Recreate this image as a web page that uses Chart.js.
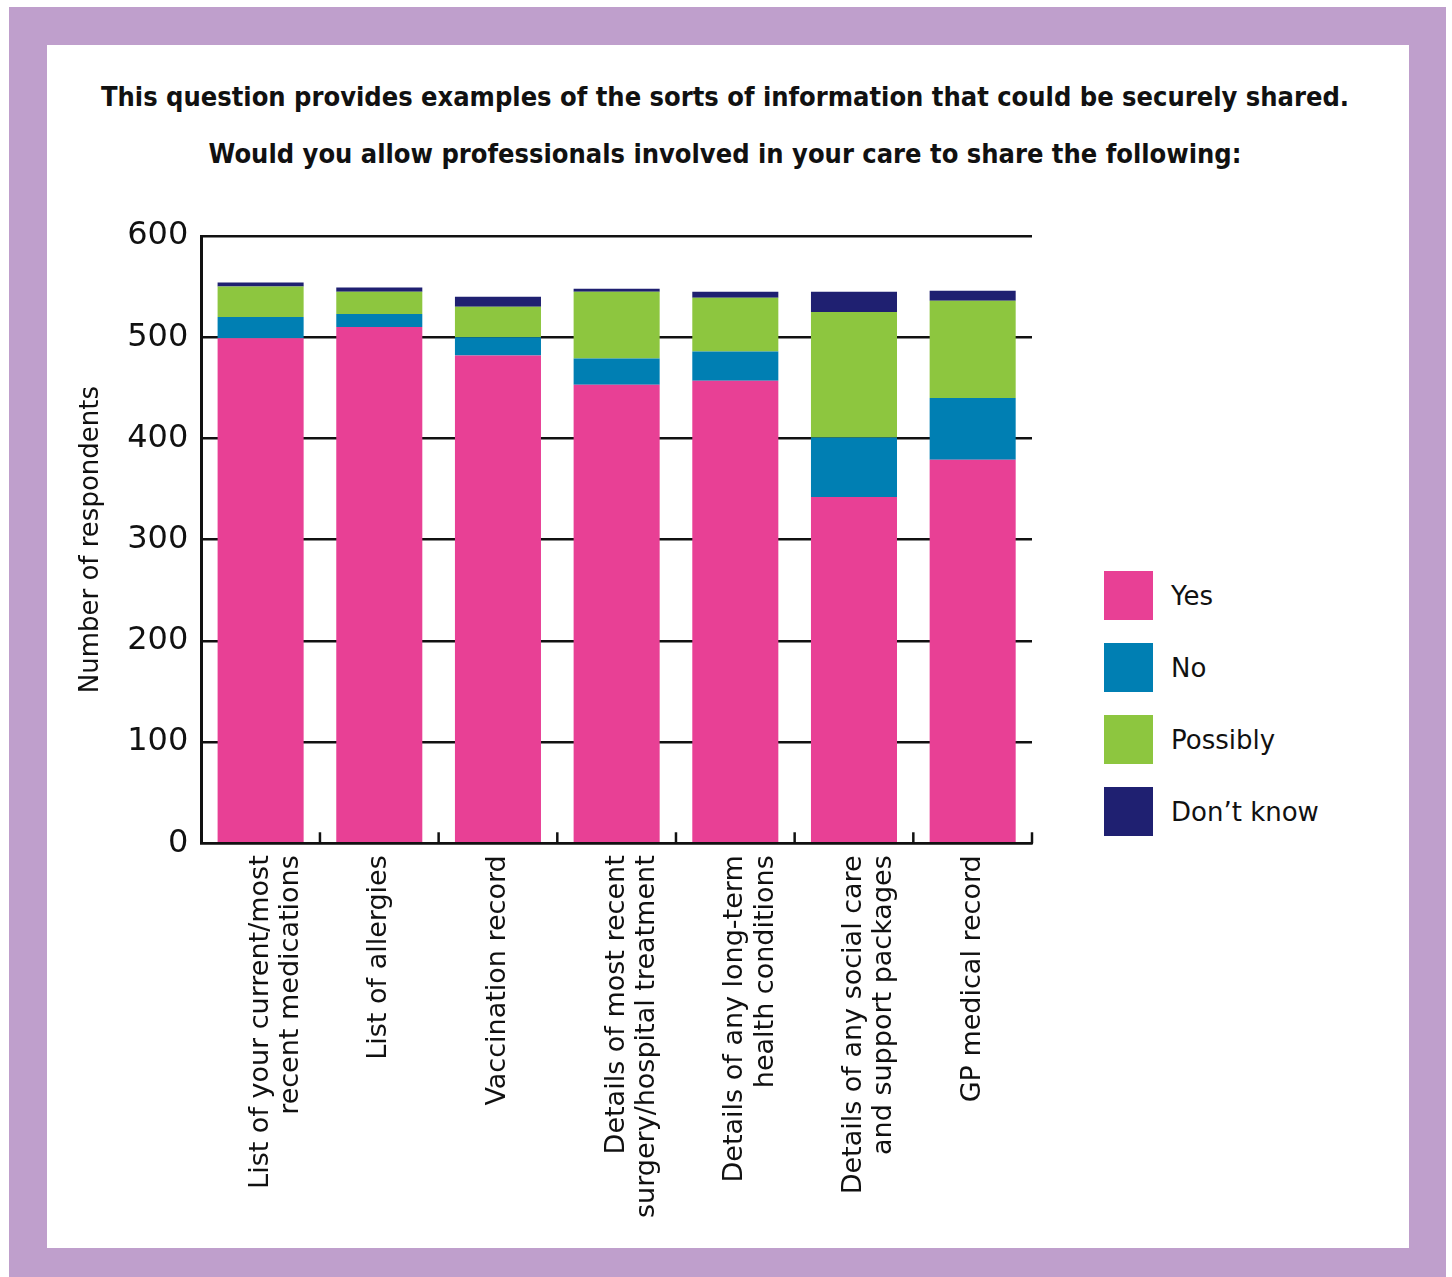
<!DOCTYPE html>
<html>
<head>
<meta charset="utf-8">
<script src="https://cdn.jsdelivr.net/npm/chart.js@4.4.1/dist/chart.umd.min.js"></script>
<style>
  html, body { margin: 0; padding: 0; background: #fff; }
  body { width: 1452px; height: 1277px; position: relative; overflow: hidden; font-family: "DejaVu Sans", sans-serif; }
  #frame { position: absolute; left: 9px; top: 7px; width: 1437px; height: 1290px; background: #bf9fcc; }
  #panel { position: absolute; left: 47px; top: 45px; width: 1362px; height: 1203px; background: #fff; }
  .title { position: absolute; left: 47px; width: 1356px; text-align: center; font-family: "DejaVu Sans Condensed", "DejaVu Sans", sans-serif; font-weight: bold; font-size: 27px; line-height: 32px; color: #111; white-space: nowrap; }
  #chartBox { position: absolute; left: 47px; top: 160px; }
  #legend { position: absolute; left: 1104px; top: 571px; }
  .item { position: relative; height: 72px; }
  .item .sw { position: absolute; left: 0; top: 0; width: 49px; height: 49px; }
  .item .tx { position: absolute; left: 67px; top: 7px; font-size: 26px; line-height: 36px; color: #111; white-space: nowrap; }
</style>
</head>
<body>
<div id="frame"></div>
<div id="panel"></div>
<div class="title" style="top:81px">This question provides examples of the sorts of information that could be securely shared.</div>
<div class="title" style="top:138px">Would you allow professionals involved in your care to share the following:</div>
<div id="chartBox"><canvas id="chart" width="1040" height="1088"></canvas></div>
<div id="legend"></div>
<script>
// categories (x axis)
var categories = [
  ["List of your current/most", "recent medications"],
  "List of allergies",
  "Vaccination record",
  ["Details of most recent", "surgery/hospital treatment"],
  ["Details of any long-term", "health conditions"],
  ["Details of any social care", "and support packages"],
  "GP medical record"
];

// series values (number of respondents)
var yesVals      = [499, 510, 482, 453, 457, 342, 379];
var noVals       = [21, 13, 18, 26, 29, 59, 61];
var possiblyVals = [30, 22, 30, 66, 53, 124, 96];
var dontKnowVals = [4, 4, 10, 3, 6, 20, 10];

var seriesNames  = ["Yes", "No", "Possibly", "Don\u2019t know"];
var seriesColors = ["#e84095", "#007fb3", "#8dc63f", "#1f2071"];

// y axis ticks
var yTicks = [0, 100, 200, 300, 400, 500, 600];

var seriesVals = [yesVals, noVals, possiblyVals, dontKnowVals];

/* short upward tick marks on the category axis --------------------- */
var catTicks = {
  id: 'catTicks',
  afterDraw: function(chart) {
    var xs = chart.scales.x;
    var ctx = chart.ctx;
    var n = categories.length;
    ctx.save();
    ctx.strokeStyle = '#111';
    ctx.lineWidth = 2.5;
    for (var i = 0; i <= n; i++) {
      var px = xs.left + i * xs.width / n;
      ctx.beginPath();
      ctx.moveTo(px, xs.top);
      ctx.lineTo(px, xs.top - 11);
      ctx.stroke();
    }
    ctx.restore();
  }
};

var chart = new Chart(document.getElementById('chart'), {
  type: 'bar',
  data: {
    labels: categories,
    datasets: seriesNames.map(function(name, i) {
      return {
        label: name,
        data: seriesVals[i],
        backgroundColor: seriesColors[i],
        borderWidth: 0,
        categoryPercentage: 1,
        barPercentage: 0.725
      };
    })
  },
  options: {
    responsive: false,
    animation: false,
    layout: { padding: { top: 76, right: 55, bottom: 18, left: 29 } },
    plugins: {
      legend: { display: false },
      tooltip: { enabled: false }
    },
    scales: {
      x: {
        stacked: true,
        grid: { display: false, drawTicks: false },
        border: { display: true, color: '#111', width: 2.5 },
        ticks: {
          color: '#111',
          font: { family: 'DejaVu Sans', size: 27, lineHeight: 1.12 },
          padding: 12,
          minRotation: 90,
          maxRotation: 90,
          autoSkip: false
        }
      },
      y: {
        stacked: true,
        min: yTicks[0],
        max: yTicks[yTicks.length - 1],
        afterBuildTicks: function(axis) {
          axis.ticks = yTicks.map(function(v) { return { value: v }; });
        },
        grid: { color: '#111', lineWidth: 2.5, drawTicks: false },
        border: { display: true, color: '#111', width: 3 },
        ticks: {
          color: '#111',
          font: { family: 'DejaVu Sans', size: 32 },
          padding: 13
        },
        title: {
          display: true,
          text: 'Number of respondents',
          color: '#111',
          font: { family: 'DejaVu Sans', size: 26 },
          padding: { top: 0, bottom: 7 }
        }
      }
    }
  },
  plugins: [catTicks]
});

/* legend built from the series ------------------------------------- */
var legend = document.getElementById('legend');
seriesNames.forEach(function(name, i) {
  var item = document.createElement('div');
  item.className = 'item';
  item.innerHTML = '<div class="sw" style="background:' + seriesColors[i] + '"></div><div class="tx">' + name + '</div>';
  legend.appendChild(item);
});
</script>
</body>
</html>
